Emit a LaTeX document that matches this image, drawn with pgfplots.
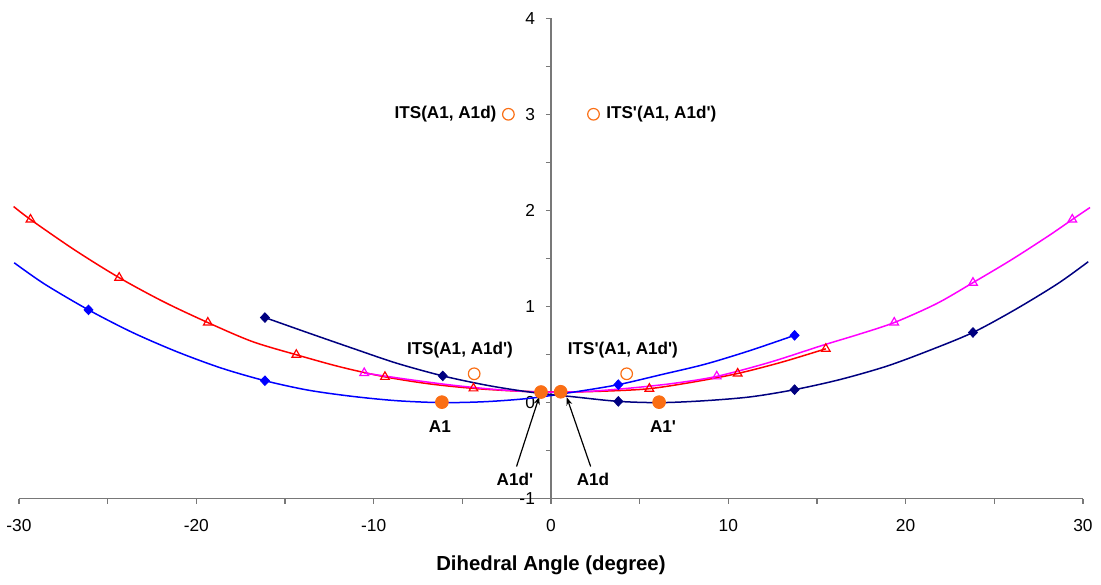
\documentclass[border=0pt]{standalone}
\usepackage{pgfplots}
\pgfplotsset{compat=1.18}
\usetikzlibrary{arrows.meta}
\usepackage{fontspec}
\setmainfont{Liberation Sans}
\definecolor{navy}{RGB}{0,0,128}
\definecolor{mag}{RGB}{255,0,255}
\definecolor{rd}{RGB}{255,0,0}
\definecolor{bl}{RGB}{0,0,255}
\definecolor{orng}{RGB}{250,110,20}
\definecolor{axgray}{RGB}{120,120,120}
\newcommand{\ap}{\textquotesingle}
\begin{document}
\begin{tikzpicture}
\begin{axis}[
  scale only axis, width=532bp, height=240.3bp,
  xmin=-30, xmax=30, ymin=-1, ymax=4,
  axis x line=bottom, axis y line=center,
  axis line style={-, axgray, line width=0.6bp},
  every inner y axis line/.append style={-},
  every outer x axis line/.append style={-},
  xtick={-30,-25,...,30},
  xticklabels={-30,,-20,,-10,,0,,10,,20,,30},
  ytick={-1,-0.5,...,4},
  yticklabels={-1,,0,,1,,2,,3,,4},
  tick align=outside,
  major tick length=2.5bp,
  tick style={axgray, line width=0.6bp},
  ticklabel style={font=\fontsize{8.7}{10}\selectfont},
  xticklabel style={yshift=-4.5bp},
  yticklabel style={xshift=-2bp},
  hide obscured x ticks=false, hide obscured y ticks=false,
  clip=false,
]
% lines
\addplot[rd, smooth, line width=0.75bp] coordinates {
(-30.3,2.04) (-29.35,1.905) (-26.85,1.587) (-24.35,1.30) (-21.85,1.05) (-19.35,0.833) (-16.85,0.636) (-14.36,0.498) (-11.85,0.37) (-9.36,0.268) (-6.85,0.195) (-4.37,0.148) (-1.9,0.12) (0.6,0.11) (3.1,0.12) (5.55,0.145) (8.05,0.215) (10.53,0.303) (13.0,0.42) (15.5,0.56)};
\addplot[mag, smooth, line width=0.75bp] coordinates {
(-10.53,0.308) (-8,0.24) (-5.5,0.18) (-3,0.135) (-0.6,0.11) (1.9,0.115) (4.4,0.15) (6.9,0.2) (9.35,0.273) (12.35,0.42) (15.3,0.595) (17.35,0.71) (19.36,0.833) (21.75,1.03) (23.8,1.248) (26.0,1.49) (28.1,1.74) (29.4,1.905) (30.4,2.03)};
\addplot[bl, smooth, line width=0.75bp] coordinates {
(-30.27,1.455) (-28.56,1.234) (-26.08,0.965) (-23.6,0.73) (-21.1,0.53) (-18.6,0.36) (-16.13,0.228) (-13.7,0.13) (-11.2,0.065) (-8.7,0.02) (-6.15,0.0) (-3.68,0.01) (-1.2,0.045) (1.3,0.11) (3.8,0.187) (6.2,0.29) (8.7,0.4) (11.2,0.54) (13.74,0.70)};
\addplot[navy, smooth, line width=0.75bp] coordinates {
(-16.13,0.885) (-13.6,0.72) (-11.1,0.56) (-8.7,0.41) (-6.1,0.278) (-3.6,0.18) (-1.2,0.11) (1.3,0.06) (3.8,0.013) (6.2,0.0) (8.7,0.02) (11.26,0.06) (13.74,0.135) (16.3,0.24) (18.9,0.377) (21.3,0.54) (23.8,0.73) (26.2,0.97) (28.6,1.24) (30.3,1.466)};
% markers
\addplot[only marks, mark=triangle, mark size=2.5bp, rd, mark options={line width=0.6bp}] coordinates {
(-29.35,1.905) (-24.35,1.30) (-19.35,0.833) (-14.36,0.498) (-9.36,0.268) (-4.37,0.148) (0.6,0.11) (5.55,0.145) (10.53,0.303) (15.5,0.56)};
\addplot[only marks, mark=triangle, mark size=2.5bp, mag, mark options={line width=0.6bp}] coordinates {
(-10.53,0.308) (-0.6,0.11) (9.35,0.273) (19.36,0.833) (23.8,1.248) (29.4,1.905)};
\addplot[only marks, mark=diamond*, mark size=2.4bp, bl, mark options={xscale=1.25}] coordinates {
(-26.08,0.965) (-16.13,0.228) (-6.15,0.0) (3.8,0.187) (13.74,0.70)};
\addplot[only marks, mark=diamond*, mark size=2.4bp, navy, mark options={xscale=1.25}] coordinates {
(-16.13,0.885) (-6.1,0.278) (3.8,0.013) (13.74,0.135) (23.8,0.73)};
\addplot[only marks, mark=*, mark size=3.2bp, orng, mark options={fill=orng, draw=orng}] coordinates {
(-6.15,0.005) (-0.56,0.11) (0.55,0.113) (6.1,0.005)};
\addplot[only marks, mark=o, mark size=2.9bp, orng, mark options={line width=0.6bp}] coordinates {
(-4.33,0.30) (4.27,0.30) (-2.4,3.0) (2.4,3.0)};
% labels
\begin{scope}[every node/.style={font=\bfseries\fontsize{8.6}{10}\selectfont, inner sep=0pt}]
\node[anchor=east] at (axis cs:-3.05,3.0) {ITS(A1, A1d)};
\node[anchor=west] at (axis cs:3.1,3.0) {ITS\ap(A1, A1d\ap)};
\node at (axis cs:-5.13,0.548) {ITS(A1, A1d\ap)};
\node at (axis cs:4.06,0.548) {ITS\ap(A1, A1d\ap)};
\node at (axis cs:-6.26,-0.25) {A1};
\node at (axis cs:6.32,-0.25) {A1\ap};
\node at (axis cs:-2.03,-0.80) {A1d\ap};
\node at (axis cs:2.37,-0.80) {A1d};
\end{scope}
\draw[-{Stealth[length=4bp,width=3bp]}, line width=0.6bp] (axis cs:-1.94,-0.665) -- (axis cs:-0.66,0.062);
\draw[-{Stealth[length=4bp,width=3bp]}, line width=0.6bp] (axis cs:2.24,-0.665) -- (axis cs:0.89,0.056);
\node[font=\bfseries\fontsize{10.2}{12}\selectfont] at (axis cs:0,-1.688) {Dihedral Angle (degree)};
\coordinate (BL) at (axis cs:-31.07,-1.896);
\coordinate (TR) at (axis cs:31.02,4.189);
\end{axis}
\pgfresetboundingbox
\path[use as bounding box] (BL) rectangle (TR);
\end{tikzpicture}
\end{document}
